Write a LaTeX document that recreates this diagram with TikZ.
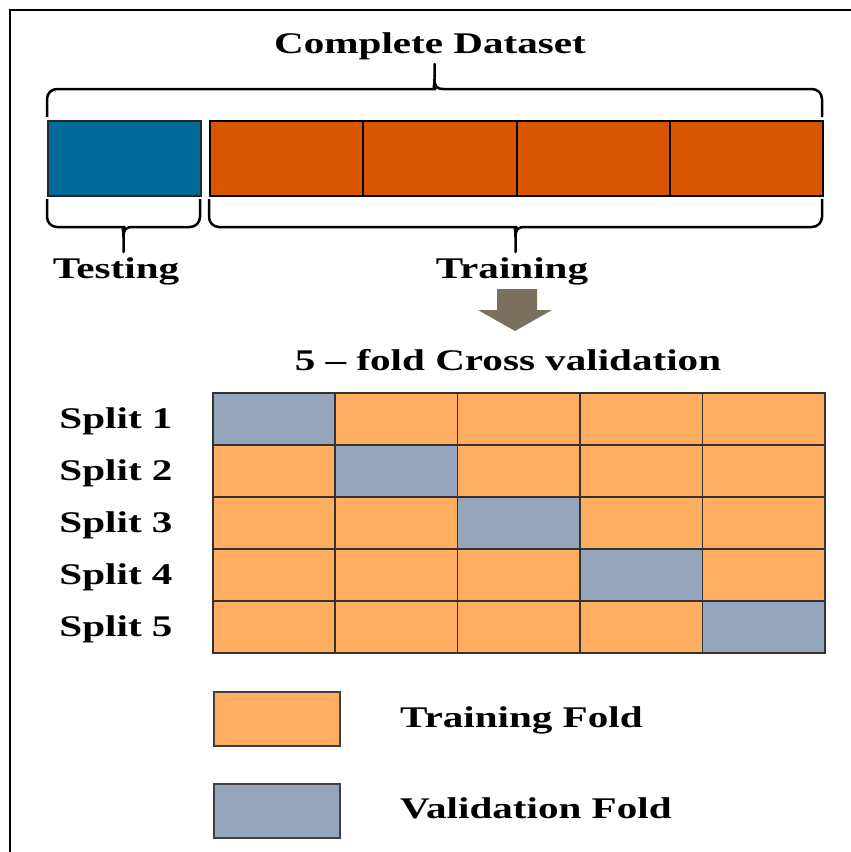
\documentclass[tikz,border=0pt]{standalone}
\usepackage{fontspec}
\setmainfont{Liberation Serif}[FakeStretch=1.37]

\definecolor{testblue}{RGB}{1,106,154}
\definecolor{trainred}{RGB}{217,86,0}
\definecolor{foldorange}{RGB}{255,173,96}
\definecolor{valblue}{RGB}{149,165,187}
\definecolor{arrowgray}{RGB}{123,112,94}

\tikzset{
  lbl/.style={font=\bfseries\fontsize{30}{36}\selectfont, inner sep=0pt, anchor=base},
  block/.style={draw=black!85, line width=1.5pt, anchor=north west, inner sep=0pt,
    minimum width=153pt, minimum height=75pt},
  cell/.style={draw=black!80, line width=1.5pt, anchor=north west, inner sep=0pt,
    minimum width=122.4pt, minimum height=52pt},
  legbox/.style={draw=black!75, line width=1.5pt, anchor=north west, inner sep=0pt,
    minimum width=126pt, minimum height=54pt},
  bracket/.style={line width=2.5pt, line join=round},
}

% curly bracket: left x, right x, end y, direction (1 = tip down, -1 = tip up)
\newcommand\hbrace[4]{%
  \pgfmathsetmacro\bmid{(#1+#2)/2}%
  \draw[bracket] (#1,#3) [rounded corners=10pt] -- (#1,{#3+28*#4})
    -- ({\bmid-9},{#3+28*#4}) [sharp corners]
    .. controls ({\bmid-2},{#3+28*#4}) and (\bmid,{#3+31*#4}) .. (\bmid,{#3+38*#4})
    -- (\bmid,{#3+53*#4}) -- (\bmid,{#3+38*#4})
    .. controls (\bmid,{#3+31*#4}) and ({\bmid+2},{#3+28*#4}) .. ({\bmid+9},{#3+28*#4})
    [rounded corners=10pt] -- (#2,{#3+28*#4}) -- (#2,#3);%
}

\begin{document}
\begin{tikzpicture}[x=1pt,y=-1pt]
\useasboundingbox (0,0) rectangle (851,852);
% frame (left and top only)
\draw[line width=2pt] (10,852) -- (10,10) -- (851,10);

\node[lbl] (complete) at (430,53) {Complete Dataset};

% dataset split into testing and training
\node[block, fill=testblue] (test) at (47,120) {};
\foreach \i in {1,...,4}
  \node[block, fill=trainred, draw=black, line width=2pt, minimum width=153.25pt]
    (tr\i) at ({209+(\i-1)*153.25},120) {};

\hbrace{47}{822}{117}{-1}
\hbrace{47}{200}{199}{1}
\hbrace{209}{822}{199}{1}

\node[lbl] (testing) at (116,278) {Testing};
\node[lbl] (training) at (512,278) {Training};

% block arrow
\fill[arrowgray]
  (497,289) -- (537,289) -- (537,310) -- (552,310) -- (515,331)
  -- (478,310) -- (497,310) -- cycle;

\node[lbl] (cvtitle) at (508,370) {5 -- fold Cross validation};

% folds
\foreach \r in {1,...,5}{
  \node[lbl] (split\r) at (116,{428+(\r-1)*52}) {Split \r};
  \foreach \c in {1,...,5}{
    \ifnum\r=\c \def\fc{valblue}\else \def\fc{foldorange}\fi
    \node[cell, fill=\fc] (f\r\c) at ({212+(\c-1)*122.4},{392+(\r-1)*52}) {};
  }
}

% legend
\node[legbox, fill=foldorange] (legtrain) at (213,691) {};
\node[legbox, fill=valblue] (legval) at (213,783) {};
\node[lbl, anchor=base west] (legtraintxt) at (400,727) {Training Fold};
\node[lbl, anchor=base west] (legvaltxt) at (400,818) {Validation Fold};
\end{tikzpicture}
\end{document}
